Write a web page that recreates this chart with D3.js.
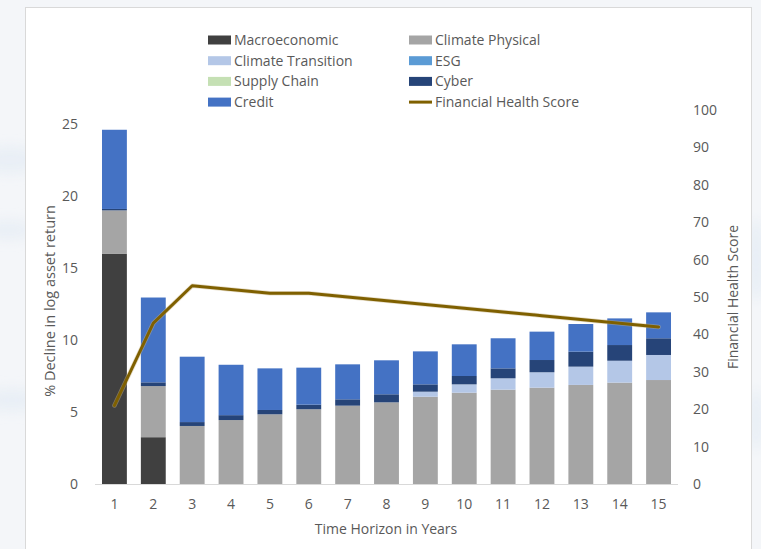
<!DOCTYPE html>
<html>
<head>
<meta charset="utf-8">
<script src="https://cdn.jsdelivr.net/npm/d3@7"></script>
<style>
  html, body { margin: 0; padding: 0; background: #f4f6f9; }
  svg { display: block; font-family: "Open Sans", "Noto Sans", sans-serif; }
</style>
</head>
<body>
<svg id="chart" width="761" height="549"></svg>
<script>
// Time horizons (years)
const years = ["1","2","3","4","5","6","7","8","9","10","11","12","13","14","15"];

// Stacked contributions to the decline in log asset return (%)
const macroeconomic     = [16.0, 3.25, 0, 0, 0, 0, 0, 0, 0, 0, 0, 0, 0, 0, 0];
const climatePhysical   = [3.0, 3.55, 4.03, 4.44, 4.84, 5.19, 5.44, 5.67, 6.06, 6.34, 6.55, 6.69, 6.88, 7.04, 7.22];
const climateTransition = [0, 0, 0, 0, 0, 0, 0, 0, 0.35, 0.58, 0.79, 1.07, 1.27, 1.52, 1.74];
const esg               = [0, 0, 0, 0, 0, 0, 0, 0, 0, 0, 0, 0, 0, 0, 0];
const supplyChain       = [0, 0, 0, 0, 0, 0, 0, 0, 0, 0, 0, 0, 0, 0, 0];
const cyber             = [0.1, 0.26, 0.27, 0.34, 0.30, 0.32, 0.44, 0.56, 0.51, 0.58, 0.69, 0.85, 1.04, 1.09, 1.16];
const credit            = [5.5, 5.89, 4.54, 3.5, 2.89, 2.57, 2.43, 2.36, 2.29, 2.2, 2.09, 1.97, 1.92, 1.85, 1.8];

// Financial health score (right axis)
const healthScore = [21, 43, 53, 52, 51, 51, 50, 49, 48, 47, 46, 45, 44, 43, 42];

// Axis ticks
const leftTicks  = [0, 5, 10, 15, 20, 25];
const rightTicks = [0, 10, 20, 30, 40, 50, 60, 70, 80, 90, 100];

const seriesNames  = ["Macroeconomic", "Climate Physical", "Climate Transition", "ESG", "Supply Chain", "Cyber", "Credit"];
const seriesValues = [macroeconomic, climatePhysical, climateTransition, esg, supplyChain, cyber, credit];
const seriesColors = ["#404040", "#a5a5a5", "#b4c7e7", "#5b9bd5", "#c5e0b4", "#264478", "#4472c4"];
const lineColor = "#7f6000";
const textColor = "#595959";

const svg = d3.select("#chart");

// Page backdrop with faint streaks, and the white chart area
const defs = svg.append("defs");
defs.append("filter").attr("id", "soft").append("feGaussianBlur").attr("stdDeviation", 6);
svg.append("rect").attr("width", 761).attr("height", 549).attr("fill", "#f4f6f9");
const streaks = [[10, 160, 30, 14], [8, 230, 26, 10], [12, 400, 30, 12], [756, 260, 12, 40], [756, 420, 10, 30]];
svg.append("g").attr("filter", "url(#soft)")
  .selectAll("ellipse").data(streaks).join("ellipse")
  .attr("cx", d => d[0]).attr("cy", d => d[1]).attr("rx", d => d[2]).attr("ry", d => d[3])
  .attr("fill", "#e2ebf4").attr("opacity", 0.6);
svg.append("rect").attr("x", 25.5).attr("y", 7.5).attr("width", 726).attr("height", 560)
  .attr("fill", "#ffffff").attr("stroke", "#d9d9d9");

// Scales
const x = d3.scaleBand().domain(years).range([95, 678]).paddingInner(0.36).paddingOuter(0.18);
const yLeft = d3.scaleLinear().domain([0, 25]).range([484, 124]);
const yRight = d3.scaleLinear().domain([0, 100]).range([484, 110]);

// Stack the series
const rows = years.map((yr, i) => {
  const r = { year: yr };
  seriesNames.forEach((n, k) => { r[n] = seriesValues[k][i]; });
  return r;
});
const stacked = d3.stack().keys(seriesNames)(rows);

svg.append("g").selectAll("g").data(stacked).join("g")
  .attr("fill", (d, k) => seriesColors[k])
  .selectAll("rect").data(d => d).join("rect")
  .attr("x", d => x(d.data.year))
  .attr("width", x.bandwidth())
  .attr("y", d => yLeft(d[1]))
  .attr("height", d => Math.max(0, yLeft(d[0]) - yLeft(d[1])));

// Category axis
const xAxis = svg.append("g").attr("transform", "translate(0,484)")
  .call(d3.axisBottom(x).tickSize(0).tickPadding(15));
xAxis.select(".domain").attr("stroke", "#d9d9d9").attr("d", "M95,0.5H678");
xAxis.selectAll("text").attr("fill", textColor).attr("font-size", 14).attr("font-family", "Open Sans");

// Left value axis
const yAxisL = svg.append("g").attr("transform", "translate(82,0)")
  .call(d3.axisLeft(yLeft).tickValues(leftTicks).tickSize(0).tickPadding(4));
yAxisL.select(".domain").remove();
yAxisL.selectAll("text").attr("fill", textColor).attr("font-size", 14).attr("font-family", "Open Sans");

// Right value axis
const yAxisR = svg.append("g").attr("transform", "translate(690,0)")
  .call(d3.axisRight(yRight).tickValues(rightTicks).tickSize(0).tickPadding(3));
yAxisR.select(".domain").remove();
yAxisR.selectAll("text").attr("fill", textColor).attr("font-size", 14).attr("font-family", "Open Sans");

// Financial health score line
const line = d3.line()
  .x((d, i) => x(years[i]) + x.bandwidth() / 2)
  .y(d => yRight(d));
svg.append("path").datum(healthScore)
  .attr("d", line).attr("fill", "none")
  .attr("stroke", "#c9b58a").attr("stroke-width", 4.5).attr("stroke-opacity", 0.45)
  .attr("stroke-linejoin", "round").attr("stroke-linecap", "round");
svg.append("path").datum(healthScore)
  .attr("d", line).attr("fill", "none")
  .attr("stroke", lineColor).attr("stroke-width", 3)
  .attr("stroke-linejoin", "round").attr("stroke-linecap", "round");

// Axis titles
svg.append("text").attr("transform", "translate(55,301) rotate(-90)")
  .attr("text-anchor", "middle").attr("fill", textColor).attr("font-size", 14.5)
  .text("% Decline in log asset return");
svg.append("text").attr("transform", "translate(738,297) rotate(-90)")
  .attr("text-anchor", "middle").attr("fill", textColor).attr("font-size", 14)
  .text("Financial Health Score");
svg.append("text").attr("x", 386).attr("y", 534)
  .attr("text-anchor", "middle").attr("fill", textColor).attr("font-size", 14)
  .text("Time Horizon in Years");

// Legend: two columns, four rows
const legendItems = [
  { name: "Macroeconomic", color: seriesColors[0], type: "rect" },
  { name: "Climate Physical", color: seriesColors[1], type: "rect" },
  { name: "Climate Transition", color: seriesColors[2], type: "rect" },
  { name: "ESG", color: seriesColors[3], type: "rect" },
  { name: "Supply Chain", color: seriesColors[4], type: "rect" },
  { name: "Cyber", color: seriesColors[5], type: "rect" },
  { name: "Credit", color: seriesColors[6], type: "rect" },
  { name: "Financial Health Score", color: lineColor, type: "line" }
];
const legend = svg.append("g").selectAll("g").data(legendItems).join("g")
  .attr("transform", (d, i) => `translate(${i % 2 === 0 ? 208 : 409},${40 + Math.floor(i / 2) * 20.7})`);
legend.filter(d => d.type === "rect").append("rect")
  .attr("x", 0).attr("y", -4.5).attr("width", 23).attr("height", 9).attr("fill", d => d.color);
legend.filter(d => d.type === "line").append("line")
  .attr("x1", 0).attr("x2", 23).attr("y1", 0).attr("y2", 0)
  .attr("stroke", d => d.color).attr("stroke-width", 3);
legend.append("text").attr("x", 26).attr("y", 0).attr("dy", "0.35em")
  .attr("fill", textColor).attr("font-size", 14).text(d => d.name);
</script>
</body>
</html>
